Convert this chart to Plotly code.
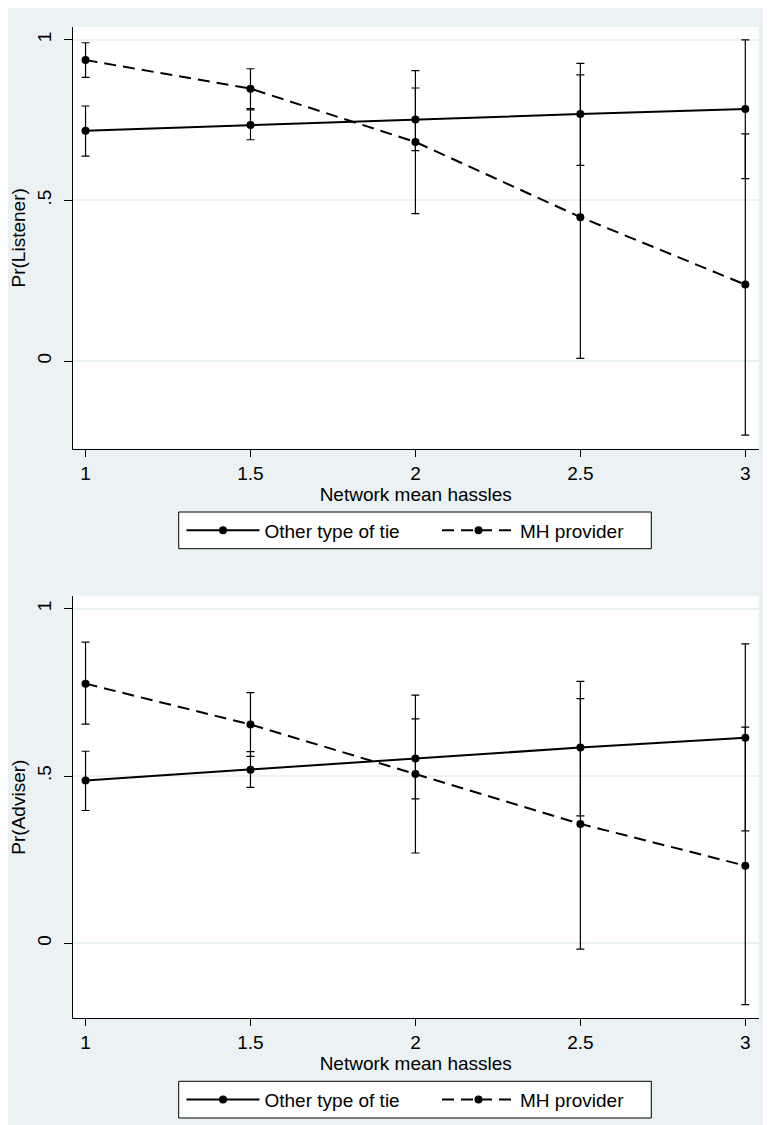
import plotly.graph_objects as go

# ---- data ----
hassles = [1, 1.5, 2, 2.5, 3]

listener_other = [0.717, 0.735, 0.752, 0.769, 0.785]
listener_other_lo = [0.638, 0.689, 0.655, 0.609, 0.568]
listener_other_hi = [0.794, 0.782, 0.850, 0.927, 1.000]
listener_mh = [0.937, 0.848, 0.682, 0.448, 0.238]
listener_mh_lo = [0.883, 0.786, 0.459, 0.008, -0.231]
listener_mh_hi = [0.991, 0.910, 0.904, 0.891, 0.707]

adviser_other = [0.487, 0.519, 0.552, 0.585, 0.614]
adviser_other_lo = [0.397, 0.466, 0.432, 0.381, 0.336]
adviser_other_hi = [0.574, 0.573, 0.671, 0.783, 0.895]
adviser_mh = [0.776, 0.654, 0.506, 0.357, 0.232]
adviser_mh_lo = [0.655, 0.559, 0.270, -0.017, -0.183]
adviser_mh_hi = [0.900, 0.749, 0.742, 0.731, 0.646]

series_names = ["Other type of tie", "MH provider"]
x_ticks = [1, 1.5, 2, 2.5, 3]
x_ticktext = ["1", "1.5", "2", "2.5", "3"]
y_ticks = [0, 0.5, 1]
y_ticktext = ["0", ".5", "1"]

FONT = "Liberation Sans, Arial, sans-serif"
BG = "#EAF2F3"
FS = 19
W, H = 771, 1125


def err(vals, lo, hi):
    return dict(type="data", symmetric=False,
                array=[h - v for v, h in zip(vals, hi)],
                arrayminus=[v - l for v, l in zip(vals, lo)],
                color="black", thickness=1.2, width=4)


fig = go.Figure()

panels = [
    ("x", "y", ("legend", "legend3"), listener_other, listener_other_lo,
     listener_other_hi, listener_mh, listener_mh_lo, listener_mh_hi),
    ("x2", "y2", ("legend2", "legend4"), adviser_other, adviser_other_lo,
     adviser_other_hi, adviser_mh, adviser_mh_lo, adviser_mh_hi),
]

for xa, ya, lgs, ov, olo, ohi, mv, mlo, mhi in panels:
    fig.add_trace(go.Scatter(
        x=hassles, y=ov, xaxis=xa, yaxis=ya, legend=lgs[0],
        name=series_names[0], mode="lines+markers", showlegend=True,
        line=dict(color="black", width=2),
        marker=dict(color="black", size=8),
        error_y=err(ov, olo, ohi)))
    fig.add_trace(go.Scatter(
        x=hassles, y=mv, xaxis=xa, yaxis=ya, legend=lgs[1],
        name=series_names[1], mode="lines+markers", showlegend=True,
        line=dict(color="black", width=2, dash="12px,7px"),
        marker=dict(color="black", size=8),
        error_y=err(mv, mlo, mhi)))

xdom = [65 / W, 750.5 / W]

common_x = dict(
    domain=xdom, range=[0.962, 3.04], tickvals=x_ticks, ticktext=x_ticktext,
    showgrid=False, zeroline=False, showline=True, linecolor="black",
    linewidth=1.2, ticks="outside", ticklen=7, tickcolor="black",
    tickfont=dict(size=FS, color="black", family=FONT),
    title=dict(text="Network mean hassles", standoff=2,
               font=dict(size=FS, color="black", family=FONT)),
)
common_y = dict(
    tickvals=y_ticks, ticktext=y_ticktext, tickangle=-90,
    showgrid=True, gridcolor=BG, gridwidth=1.5, zeroline=False,
    showline=True, linecolor="black", linewidth=1.2,
    ticks="outside", ticklen=8, tickcolor="black",
    ticklabelstandoff=5,
    tickfont=dict(size=FS, color="black", family=FONT),
)

legend_common = dict(
    orientation="h", xanchor="left", yanchor="middle",
    bgcolor="rgba(0,0,0,0)", borderwidth=0,
    font=dict(size=FS, color="black", family=FONT),
    itemwidth=73, visible=True,
)

# legend frames (top and bottom panels), in pixels
box_x0, box_x1 = 170.7, 643.3
boxes_y = [(504.0, 540.7), (1073.3, 1110.0)]
shapes = []
for y0, y1 in boxes_y:
    shapes.append(dict(type="rect", xref="paper", yref="paper",
                       x0=box_x0 / W, x1=box_x1 / W,
                       y0=1 - y1 / H, y1=1 - y0 / H,
                       fillcolor="white", line=dict(color="black", width=1),
                       layer="below"))

leg_other_x = 173.5
leg_mh_x = 429.0
top_mid = 1 - (sum(boxes_y[0]) / 2) / H
bot_mid = 1 - (sum(boxes_y[1]) / 2) / H

fig.update_layout(
    width=W, height=H,
    margin=dict(l=0, r=0, t=0, b=0),
    paper_bgcolor=BG, plot_bgcolor="white",
    font=dict(family=FONT, color="black", size=FS),
    showlegend=True,
    shapes=shapes,
    xaxis=dict(anchor="y", **common_x),
    yaxis=dict(anchor="x", domain=[1 - 440.7 / H, 1 - 19 / H],
               range=[-0.273, 1.04],
               title=dict(text="Pr(Listener)", standoff=6,
                          font=dict(size=FS, color="black", family=FONT)),
               **common_y),
    xaxis2=dict(anchor="y2", **common_x),
    yaxis2=dict(anchor="x2", domain=[1 - 1010 / H, 1 - 588.3 / H],
                range=[-0.223, 1.037],
                title=dict(text="Pr(Adviser)", standoff=6,
                           font=dict(size=FS, color="black", family=FONT)),
                **common_y),
    legend=dict(x=leg_other_x / W, y=top_mid, **legend_common),
    legend3=dict(x=leg_mh_x / W, y=top_mid, **legend_common),
    legend2=dict(x=leg_other_x / W, y=bot_mid, **legend_common),
    legend4=dict(x=leg_mh_x / W, y=bot_mid, **legend_common),
)

fig.write_html("out.html")
